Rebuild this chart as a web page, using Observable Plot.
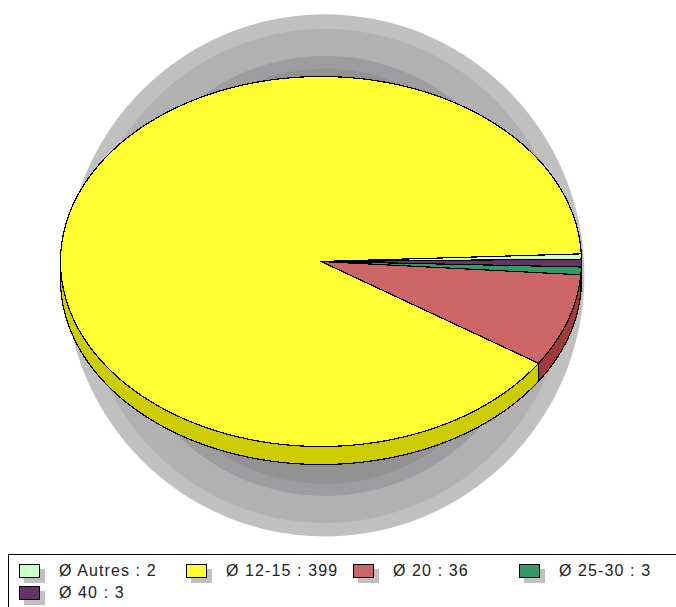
<!DOCTYPE html>
<html><head><meta charset="utf-8">
<script src="https://cdn.jsdelivr.net/npm/d3@7"></script>
<script src="https://cdn.jsdelivr.net/npm/@observablehq/plot@0.6"></script>
<style>
html,body{margin:0;padding:0;background:#fff;overflow:hidden}
#wrap{position:relative;width:676px;height:607px;overflow:hidden}
#chart svg{display:block;position:absolute;left:0;top:0}
#legend{position:absolute;left:8px;top:554px;width:680px;height:60px;border:1px solid #000;box-sizing:border-box;background:#fff}
.k{position:absolute;width:21px;height:14px;box-sizing:border-box;border:1px solid #000;box-shadow:5px 5px 0 #c0c0c0}
.t{position:absolute;font:16px/18px "Liberation Sans",Arial,sans-serif;letter-spacing:1.1px;color:#222;white-space:pre}
</style></head><body>
<div id="wrap"><div id="chart"></div><div id="legend"></div></div>
<script>
// Pie values, clockwise from the start angle
const names  = ["Autres","40","25-30","20","12-15"];
const values = [2,3,3,36,399];
const colors = ["#ccffcc","#663366","#339966","#cc6666","#ffff33"];
const sideColors = ["#a3a3a3","#4d264d","#267350","#a33a3a","#cccc00"];
// Legend order and labels
const legendNames  = ["Autres","12-15","20","25-30","40"];
const legendLabels = ["Ø Autres : 2","Ø 12-15 : 399","Ø 20 : 36","Ø 25-30 : 3","Ø 40 : 3"];

const startDeg = -2.37, depth = 18 / 185;
const total = d3.sum(values);
const rad = d => d * Math.PI / 180;
const pt = (deg, drop = 0) => [Math.cos(rad(deg)), -Math.sin(rad(deg)) - drop];

// Soft drop-shadow ellipses in the pie's unit space (cx, cy, rx, ry)
const shadowFill = ["#c0c0c0","#b1b1b1","#9d9da1","#929292"];
const shadowGeom = [[.015,-.075,.996,1.411],[.015,-.078,.931,1.335],[.015,-.078,.82,1.189],[.015,-.08,.766,1.122]];

const rows = [];
shadowGeom.forEach(([cx,cy,rx,ry],i)=>{
  d3.range(0,361,2).forEach(a=>rows.push({x:cx+rx*Math.cos(rad(a)),y:cy+ry*Math.sin(rad(a)),k:"s"+i,fill:shadowFill[i]}));
});
let acc = startDeg;
const spans = values.map((v,i)=>{const a0=acc; acc+=v/total*360; return {i,a0,a1:acc};});
const arc = (a0,a1)=>{const n=Math.max(2,Math.ceil((a1-a0)/1.5)); return d3.range(n+1).map(j=>a0+(a1-a0)*j/n);};
// side wall: visible front half only (0..180 degrees clockwise on screen)
spans.forEach(s=>{
  const a0=Math.max(s.a0,0), a1=Math.min(s.a1,180);
  if(a1<=a0) return;
  const as=arc(a0,a1);
  [...as.map(a=>pt(a)),...as.slice().reverse().map(a=>pt(a,depth)),pt(a0)]
    .forEach(([x,y])=>rows.push({x,y,k:"w"+s.i,fill:sideColors[s.i]}));
});
// top faces
const topRows=[];
[4,3,2,1,0].forEach(i=>{const s=spans[i];
  [[0,0],...arc(s.a0,s.a1).map(a=>pt(a)),[0,0]].forEach(([x,y])=>topRows.push({x,y,k:"t"+i,fill:colors[i]}));
});

const svg = Plot.plot({
  width:676,height:553,margin:0,
  x:{domain:[-1,1],range:[60,581],axis:null},
  y:{domain:[1,-1],range:[76,446],axis:null},
  marks:[
    Plot.line(rows.filter(d=>d.k[0]==="s"),{x:"x",y:"y",z:"k",fill:d=>d.fill,stroke:"none",curve:"linear"}),
    Plot.line(rows.filter(d=>d.k[0]==="w"),{x:"x",y:"y",z:"k",fill:d=>d.fill,stroke:"#000",strokeWidth:1.2,strokeLinejoin:"round",curve:"linear",shapeRendering:"crispEdges"}),
    Plot.line(topRows,{x:"x",y:"y",z:"k",fill:d=>d.fill,stroke:"#000",strokeWidth:1.2,strokeLinejoin:"round",curve:"linear",shapeRendering:"crispEdges"})
  ]
});
svg.style.overflow="visible";
document.getElementById("chart").append(svg);

// Legend
const leg=document.getElementById("legend");
const slots=[[10,50],[177,217],[344,384],[510,550],[10,50]];
legendNames.forEach((n,i)=>{
  const row=i<4?0:1, top=row?31:9;
  const k=document.createElement("div");k.className="k";
  k.style.cssText=`left:${slots[i][0]}px;top:${top}px;background:${colors[names.indexOf(n)]}`;
  const t=document.createElement("div");t.className="t";t.textContent=legendLabels[i];
  t.style.left=slots[i][1]+"px";t.style.top=(top-2)+"px";
  leg.append(k,t);
});
</script></body></html>
